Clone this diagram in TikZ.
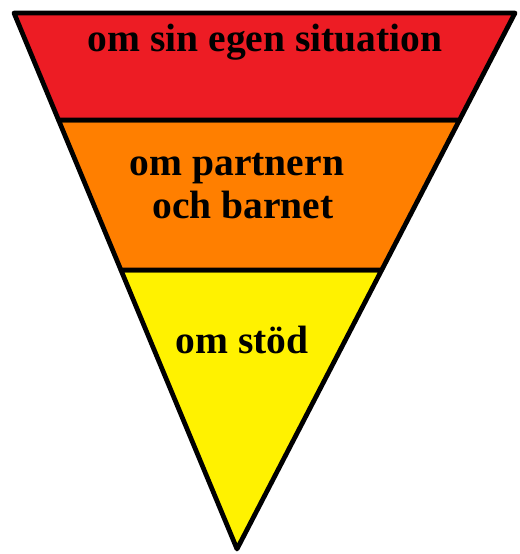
\documentclass[tikz,border=0pt]{standalone}
\usepackage{fontspec}
\setmainfont{Liberation Serif}
\usepackage{tikz}
\definecolor{bandred}{RGB}{237,28,36}
\definecolor{bandorange}{RGB}{255,127,0}
\definecolor{bandyellow}{RGB}{255,242,0}
\usetikzlibrary{calc}

\begin{document}
\begin{tikzpicture}[x=0.02cm, y=-0.02cm, line join=round,
    band/.style={draw=black, line width=2.7pt},
    lbl/.style={font=\bfseries\fontsize{22.5}{24.5}\selectfont, anchor=base, inner sep=0pt}]
    \useasboundingbox (0,0) rectangle (520,554);
    % Hörn av triangeln
    \coordinate (tl) at (14,13);
    \coordinate (tr) at (515,13);
    \coordinate (ap) at (237,549);
    % Gränser mellan banden
    \coordinate (l1) at ($(tl)!0.1996!(ap)$);
    \coordinate (r1) at ($(tr)!0.1996!(ap)$);
    \coordinate (l2) at ($(tl)!0.4795!(ap)$);
    \coordinate (r2) at ($(tr)!0.4795!(ap)$);
    % Banden
    \draw[band, fill=bandyellow] (l2) -- (r2) -- (ap) -- cycle;
    \draw[band, fill=bandorange] (l1) -- (r1) -- (r2) -- (l2) -- cycle;
    \draw[band, fill=bandred] (tl) -- (tr) -- (r1) -- (l1) -- cycle;
    % Texter
    \node[lbl] (egen) at (265,52) {om sin egen situation};
    \node[lbl] (partner) at (237,175) {om partnern};
    \node[lbl] (barnet) at (243,218) {och barnet};
    \node[lbl] (stod) at (242,353) {om stöd};
\end{tikzpicture}
\end{document}
